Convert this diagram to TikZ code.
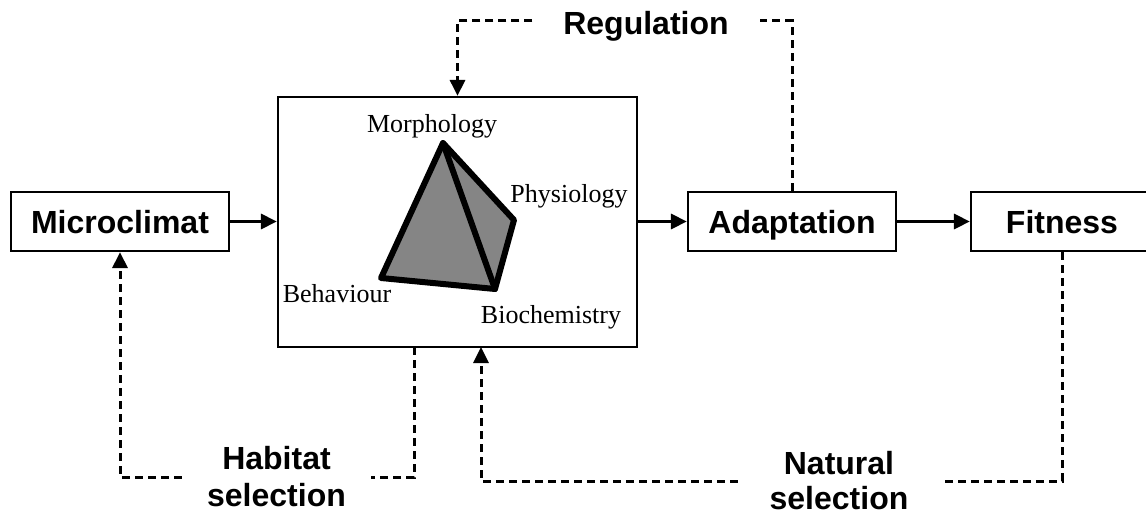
\documentclass[tikz,border=0pt]{standalone}
\usepackage{fontspec}
\setmainfont{Liberation Serif}
\newfontfamily\arialfont{Liberation Sans}
\usetikzlibrary{arrows.meta}
\begin{document}
\begin{tikzpicture}[x=1pt,y=-1pt,
  tip/.style={-{Triangle[length=16pt,width=15pt]}},
  solidarrow/.style={line width=3pt,tip},
  dashline/.style={line width=3pt,dash pattern=on 8pt off 5pt},
  bigbox/.style={draw,line width=2.2pt,rectangle,inner sep=0pt,minimum height=59pt,
     font=\arialfont\bfseries\fontsize{32}{37}\selectfont,text height=23pt,text depth=0pt},
  boldlabel/.style={inner sep=0pt,align=center,font=\arialfont\bfseries\fontsize{32}{37}\selectfont},
  serlabel/.style={inner sep=0pt,anchor=base,font=\fontsize{26}{30}\selectfont},
  pyr/.style={line width=6pt,line join=round,line cap=round}
]
\useasboundingbox (0,0) rectangle (1146,524);

% main boxes
\node[bigbox,minimum width=218pt] (micro) at (120,221.5) {Microclimat};
\node[draw,line width=2.2pt,rectangle,minimum width=359pt,minimum height=250pt,inner sep=0pt] (core) at (457.5,222) {};
\node[bigbox,minimum width=208pt] (adapt) at (792,221.5) {Adaptation};
\node[bigbox,minimum width=182pt] (fit) at (1062,221.5) {Fitness};

% pyramid
\coordinate (M) at (443,143);
\coordinate (P) at (514,220);
\coordinate (C) at (495,289);
\coordinate (B) at (381,278);
\fill[black!48] (M) -- (P) -- (C) -- (B) -- cycle;
\draw[pyr] (M) -- (P) -- (C) -- (B) -- cycle;
\draw[pyr] (M) -- (C);

\node[serlabel] (lm) at (432,133) {Morphology};
\node[serlabel] (lp) at (569,202) {Physiology};
\node[serlabel] (lb) at (337,302) {Behaviour};
\node[serlabel] (lc) at (551,323) {Biochemistry};

% solid arrows
\draw[solidarrow] (micro.east) -- (core.west |- micro.east);
\draw[solidarrow] (core.east |- adapt.west) -- (adapt.west);
\draw[solidarrow] (adapt.east) -- (fit.west);

% Regulation
\node[boldlabel,minimum width=227pt,text height=28pt,text depth=0pt] (reg) at (646,21) {Regulation};
\draw[dashline] (adapt.north) |- (reg.east);
\draw[dashline,tip] (reg.west) -| (core.north);

% Habitat selection
\node[boldlabel,minimum width=189pt] (hab) at (276.5,477) {Habitat\\selection};
\coordinate (habstart) at (414,347);
\draw[dashline] (habstart) |- (hab.east);
\draw[dashline,tip] (hab.west) -| (micro.south);

% Natural selection
\node[boldlabel,minimum width=202pt,font=\arialfont\bfseries\fontsize{32}{35}\selectfont] (nat) at (839,481) {Natural\\selection};
\coordinate (natend) at (481,347);
\draw[dashline] (fit.south) |- (nat.east);
\draw[dashline,tip] (nat.west) -| (natend);
\end{tikzpicture}
\end{document}
